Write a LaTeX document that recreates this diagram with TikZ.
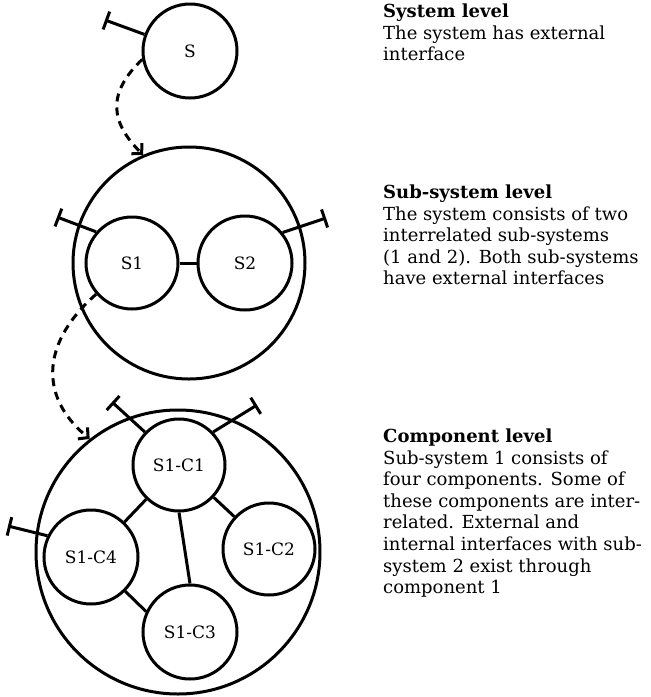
\documentclass[tikz,border=0pt]{standalone}
\usepackage{fontspec}
\setmainfont{DejaVu Serif}
\usetikzlibrary{arrows.meta}
\begin{document}
\begin{tikzpicture}[x=1pt,y=-1pt,
  unit/.style={circle, draw, line width=3pt, inner sep=0pt,
               font=\fontsize{17}{19}\selectfont},
  link/.style={line width=3pt},
  iface/.style={line width=3pt, -{Bar[width=19pt]}},
  refine/.style={line width=3pt, dash pattern=on 8pt off 6pt,
                 -{Straight Barb[length=7pt,width=15pt]}},
  desc/.style={anchor=base west, inner sep=0pt}
  ]
\useasboundingbox (0,0) rectangle (651,697);

% system level
\node[unit, minimum size=94pt] (S) at (190,51) {S};

% sub-system level
\node[unit, minimum size=232pt] (sub) at (189,263) {};
\node[unit, minimum size=92pt] (S1) at (132,263) {S1};
\node[unit, minimum size=94pt] (S2) at (245,263) {S2};

% component level
\node[unit, minimum size=284pt] (comp) at (178,552) {};
\node[unit, minimum size=92pt] (C1) at (179,465) {S1-C1};
\node[unit, minimum size=92pt] (C2) at (269,549) {S1-C2};
\node[unit, minimum size=94pt] (C3) at (190,632) {S1-C3};
\node[unit, minimum size=94pt] (C4) at (91,557) {S1-C4};

% free ends of the external interfaces
\coordinate (sX) at (105,20);
\coordinate (s1X) at (57,217);
\coordinate (s2X) at (326,218);
\coordinate (c1aX) at (112,402);
\coordinate (c1bX) at (257,405);
\coordinate (c4X) at (8,526);

\draw[iface] (S.160) -- (sX);
\draw[iface] (S1.139) -- (s1X);
\draw[iface] (S2.39) -- (s2X);
\draw[iface] (C1.136) -- (c1aX);
\draw[iface] (C1.44) -- (c1bX);
\draw[iface] (C4.154) -- (c4X);

% internal relations
\draw[link] (S1) -- (S2);
\draw[link] (C1) -- (C2);
\draw[link] (C1) -- (C4);
\draw[link] (C1.south) -- (C3.north);
\draw[link] (C4.-45) -- (C3.155);

% refinement arrows
\draw[refine] (S.190) .. controls (108,92) and (109,121) .. (sub.113);
\draw[refine] (S1.221) .. controls (43,341) and (37,395) .. (comp.128);

% descriptions
\begin{scope}[font=\fontsize{18}{21.6}\selectfont]
\node[desc] (t1) at (383,17.5) {\parbox[t]{265pt}{\raggedright
  \textbf{System level}\\
  The system has external\\
  interface}};
\node[desc] (t2) at (383,198.5) {\parbox[t]{265pt}{\raggedright
  \textbf{Sub-system level}\\
  The system consists of two\\
  interrelated sub-systems\\
  (1 and 2). Both sub-systems\\
  have external interfaces}};
\node[desc] (t3) at (383,442.5) {\parbox[t]{265pt}{\raggedright
  \textbf{Component level}\\
  Sub-system 1 consists of\\
  four components. Some of\\
  these components are inter-\\
  related. External and\\
  internal interfaces with sub-\\
  system 2 exist through\\
  component 1}};
\end{scope}
\end{tikzpicture}
\end{document}
